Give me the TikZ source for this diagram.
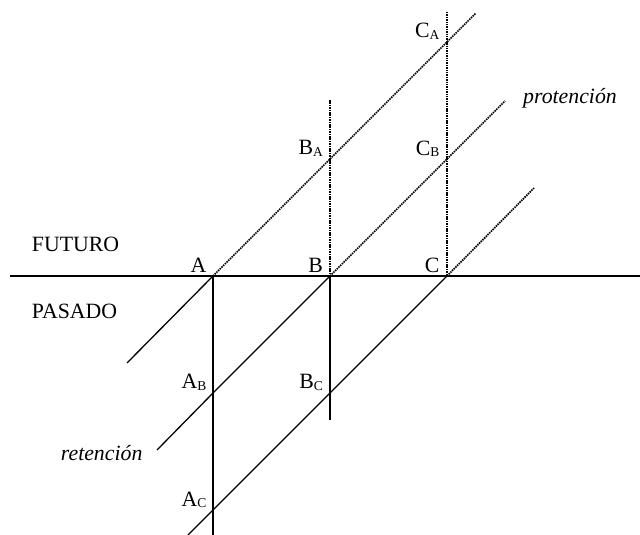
\documentclass[tikz,border=0pt]{standalone}
\usepackage{fontspec}
\setmainfont{Liberation Serif}
\newcommand{\lsub}[1]{\raisebox{-1.5pt}{\fontsize{13.5}{13.5}\selectfont #1}}

\begin{document}
\begin{tikzpicture}[x=1pt, y=-1pt,
  pasado/.style={line width=1.3pt},
  futuro/.style={line width=1.7pt, dash pattern=on 1.5pt off 0.9pt},
  lbl/.style={font=\fontsize{21.8}{24}\selectfont, inner sep=0pt},
  rlbl/.style={lbl, anchor=base east},
  ilbl/.style={lbl, font=\fontsize{21.8}{24}\selectfont\itshape, anchor=base west}]
  % Page frame
  \fill[white] (0,0) rectangle (640,535);
  \useasboundingbox (0,0) rectangle (640,535);

  % Now points on the time line
  \coordinate (left)  at (10,276);
  \coordinate (right) at (640,276);
  \coordinate (A) at (213,276);
  \coordinate (B) at (330,276);
  \coordinate (C) at (447,276);
  % Crossings
  \coordinate (BA) at (330,159);
  \coordinate (CA) at (447,42);
  \coordinate (CB) at (447,159);
  \coordinate (AB) at (213,393);
  \coordinate (BC) at (330,393);
  \coordinate (AC) at (213,510);
  % Line ends
  \coordinate (Astart) at (127,363);
  \coordinate (Aend)   at (476,13);
  \coordinate (Bstart) at (157,450);
  \coordinate (Bend)   at (505,101);
  \coordinate (Cstart) at (188,535);
  \coordinate (Cend)   at (534,188);
  \coordinate (Abot) at (213,535);
  \coordinate (Bbot) at (330,420);
  \coordinate (Btop) at (330,100);
  \coordinate (Ctop) at (447,12);

  % --- Time line ---
  \draw[pasado] (left) -- (right);
  \node[lbl, anchor=base west] (futuro) at (31.7,251.7) {FUTURO};
  \node[lbl, anchor=base west] (pasado) at (31.7,318.3) {PASADO};

  % --- Diagonals: retention below, protention above ---
  \draw[pasado] (Astart) -- (A);
  \draw[futuro] (A) -- (BA) -- (CA) -- (Aend);
  \draw[pasado] (Bstart) -- (AB) -- (B);
  \draw[futuro] (B) -- (CB) -- (Bend);
  \draw[pasado] (Cstart) -- (AC) -- (BC) -- (C);
  \draw[futuro] (C) -- (Cend);

  % --- Verticals ---
  \draw[pasado] (A) -- (AB) -- (AC) -- (Abot);
  \draw[futuro] (Btop) -- (BA) -- (B);
  \draw[pasado] (B) -- (BC) -- (Bbot);
  \draw[futuro] (Ctop) -- (CA) -- (CB) -- (C);

  % --- Labels ---
  \node[rlbl] (labA) at (206.5,272) {A};
  \node[rlbl] (labB) at (323,272) {B};
  \node[rlbl] (labC) at (439.5,272) {C};
  \node[rlbl] (labCA) at (439.5,38) {C\lsub{A}};
  \node[rlbl] (labBA) at (323,154.5) {B\lsub{A}};
  \node[rlbl] (labCB) at (439.5,155) {C\lsub{B}};
  \node[rlbl] (labAB) at (206.5,388.5) {A\lsub{B}};
  \node[rlbl] (labBC) at (323,388.5) {B\lsub{C}};
  \node[rlbl] (labAC) at (206.5,506) {A\lsub{C}};
  \node[ilbl] (prot) at (523,103) {protención};
  \node[ilbl] (ret) at (60.7,460.7) {retención};
\end{tikzpicture}
\end{document}
